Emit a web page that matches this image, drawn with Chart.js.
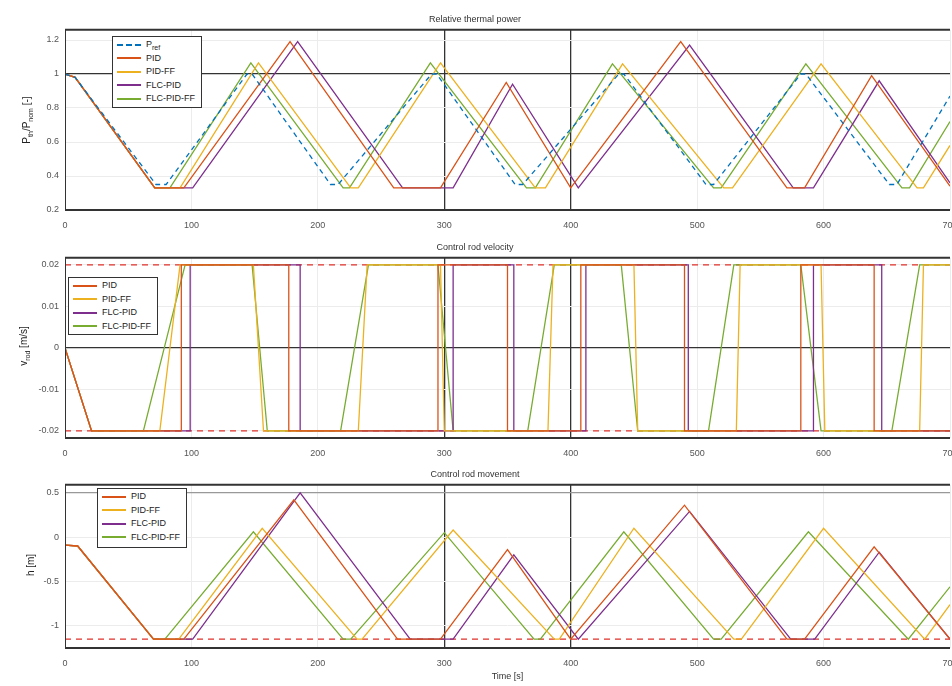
<!DOCTYPE html>
<html>
<head>
<meta charset="utf-8">
<script src="https://cdn.jsdelivr.net/npm/chart.js@4.4.1/dist/chart.umd.min.js"></script>
<style>
  body { margin: 0; width: 952px; height: 686px; background: #fff; position: relative; overflow: hidden;
         font-family: "Liberation Sans", Arial, sans-serif; }
  canvas { position: absolute; left: 0; }
  .leg { position: absolute; background: #fff; border: 1px solid #333; font-size: 9px; color: #222;
         padding: 1px 4px; box-sizing: border-box; }
  .leg div { height: 13.5px; line-height: 13.5px; white-space: nowrap; }
  .leg .ln { display: inline-block; width: 24px; vertical-align: middle; margin-right: 5px; border-top: 2px solid; }
  .ylab { position: absolute; transform: translate(-50%, -50%) rotate(-90deg); font-size: 10px; color: #222; white-space: nowrap; }
  .ylab sub { font-size: 7px; }
</style>
</head>
<body>
<canvas id="power" width="952" height="236" style="top:0"></canvas>
<canvas id="velocity" width="952" height="228" style="top:236px"></canvas>
<canvas id="movement" width="952" height="222" style="top:464px"></canvas>

<div class="ylab" style="left:27px;top:120px">P<sub>th</sub>/P<sub>nom</sub> [-]</div>
<div class="ylab" style="left:24px;top:346px">v<sub>rod</sub> [m/s]</div>
<div class="ylab" style="left:30px;top:565px">h [m]</div>

<div class="leg" style="left:112px;top:36px;width:90px;height:72px">
  <div><span class="ln" style="border-top:2px dashed #0072BD"></span>P<sub style="font-size:7px">ref</sub></div>
  <div><span class="ln" style="border-color:#D95319"></span>PID</div>
  <div><span class="ln" style="border-color:#EDB120"></span>PID-FF</div>
  <div><span class="ln" style="border-color:#7E2F8E"></span>FLC-PID</div>
  <div><span class="ln" style="border-color:#77AC30"></span>FLC-PID-FF</div>
</div>
<div class="leg" style="left:68px;top:277px;width:90px;height:58px">
  <div><span class="ln" style="border-color:#D95319"></span>PID</div>
  <div><span class="ln" style="border-color:#EDB120"></span>PID-FF</div>
  <div><span class="ln" style="border-color:#7E2F8E"></span>FLC-PID</div>
  <div><span class="ln" style="border-color:#77AC30"></span>FLC-PID-FF</div>
</div>
<div class="leg" style="left:97px;top:488px;width:90px;height:60px">
  <div><span class="ln" style="border-color:#D95319"></span>PID</div>
  <div><span class="ln" style="border-color:#EDB120"></span>PID-FF</div>
  <div><span class="ln" style="border-color:#7E2F8E"></span>FLC-PID</div>
  <div><span class="ln" style="border-color:#77AC30"></span>FLC-PID-FF</div>
</div>

<script>
// axis ticks
const timeTicks = [0, 100, 200, 300, 400, 500, 600, 700];
const powerTicks = [0.2, 0.4, 0.6, 0.8, 1, 1.2];
const velTicks = [-0.02, -0.01, 0, 0.01, 0.02];
const rodTicks = [-1, -0.5, 0, 0.5];
const markTimes = [300, 400];

// relative thermal power
const tRef = [0, 8, 72, 80, 144, 148, 210, 216, 290, 294, 356, 362, 438, 442, 507, 513, 582, 586, 652, 658, 700];
const pRef = [1, 0.98, 0.35, 0.35, 1, 1, 0.35, 0.35, 1, 1, 0.35, 0.35, 1, 1, 0.35, 0.35, 1, 1, 0.35, 0.35, 0.87];
const tPowPid = [0, 8, 71, 94, 178, 260, 297, 349, 400, 487, 571, 585, 638, 700];
const pPowPid = [1, 0.98, 0.33, 0.33, 1.19, 0.33, 0.33, 0.95, 0.33, 1.19, 0.33, 0.33, 0.99, 0.34];
const tPowPidFF = [0, 8, 71, 91, 153, 226, 232, 297, 372, 380, 441, 521, 528, 598, 674, 679, 700];
const pPowPidFF = [1, 0.98, 0.33, 0.33, 1.065, 0.33, 0.33, 1.065, 0.33, 0.33, 1.06, 0.33, 0.33, 1.06, 0.33, 0.33, 0.58];
const tPowFlc = [0, 8, 71, 101, 184, 267, 307, 354, 406, 494, 576, 592, 644, 700];
const pPowFlc = [1, 0.98, 0.33, 0.33, 1.19, 0.33, 0.33, 0.94, 0.33, 1.17, 0.33, 0.33, 0.96, 0.36];
const tPowFlcFF = [0, 8, 71, 83, 147, 220, 225, 289, 365, 372, 433, 513, 519, 586, 662, 668, 700];
const pPowFlcFF = [1, 0.98, 0.33, 0.33, 1.065, 0.33, 0.33, 1.065, 0.33, 0.33, 1.06, 0.33, 0.33, 1.06, 0.33, 0.33, 0.72];

// control rod velocity
const velLimit = 0.02;
const tVelPid = [0, 21, 92, 92, 177, 177, 295, 295, 350, 350, 408, 408, 490, 490, 582, 582, 640, 640, 700];
const vVelPid = [0, -0.02, -0.02, 0.02, 0.02, -0.02, -0.02, 0.02, 0.02, -0.02, -0.02, 0.02, 0.02, -0.02, -0.02, 0.02, 0.02, -0.02, -0.02];
const tVelPidFF = [0, 21, 75, 91, 149, 157, 232, 239, 297, 300, 382, 386, 450, 453, 531, 534, 598, 601, 676, 679, 700];
const vVelPidFF = [0, -0.02, -0.02, 0.02, 0.02, -0.02, -0.02, 0.02, 0.02, -0.02, -0.02, 0.02, 0.02, -0.02, -0.02, 0.02, 0.02, -0.02, -0.02, 0.02, 0.02];
const tVelFlc = [0, 21, 99, 99, 186, 186, 307, 307, 355, 355, 412, 412, 493, 493, 592, 592, 646, 646, 700];
const vVelFlc = [0, -0.02, -0.02, 0.02, 0.02, -0.02, -0.02, 0.02, 0.02, -0.02, -0.02, 0.02, 0.02, -0.02, -0.02, 0.02, 0.02, -0.02, -0.02];
const tVelFlcFF = [0, 21, 62, 95, 148, 160, 218, 240, 295, 307, 366, 387, 440, 453, 509, 529, 582, 598, 654, 676, 700];
const vVelFlcFF = [0, -0.02, -0.02, 0.02, 0.02, -0.02, -0.02, 0.02, 0.02, -0.02, -0.02, 0.02, 0.02, -0.02, -0.02, 0.02, 0.02, -0.02, -0.02, 0.02, 0.02];

// control rod movement
const rodLow = -1.15;
const tRodPid = [0, 10, 70, 94, 181, 263, 297, 350, 400, 490, 571, 585, 640, 700];
const hRodPid = [-0.09, -0.1, -1.15, -1.15, 0.42, -1.15, -1.15, -0.14, -1.15, 0.36, -1.15, -1.15, -0.11, -1.15];
const tRodPidFF = [0, 10, 70, 90, 156, 231, 235, 307, 387, 391, 450, 529, 535, 600, 680, 700];
const hRodPidFF = [-0.09, -0.1, -1.15, -1.15, 0.1, -1.15, -1.15, 0.08, -1.15, -1.15, 0.1, -1.15, -1.15, 0.1, -1.15, -0.76];
const tRodFlc = [0, 10, 70, 101, 186, 273, 307, 355, 406, 494, 574, 593, 644, 700];
const hRodFlc = [-0.09, -0.1, -1.15, -1.15, 0.5, -1.15, -1.15, -0.2, -1.15, 0.29, -1.15, -1.15, -0.17, -1.15];
const tRodFlcFF = [0, 10, 70, 79, 149, 220, 226, 300, 371, 376, 442, 513, 519, 588, 667, 700];
const hRodFlcFF = [-0.09, -0.1, -1.15, -1.15, 0.06, -1.15, -1.15, 0.05, -1.15, -1.15, 0.06, -1.15, -1.15, 0.06, -1.15, -0.56];

const colors = { ref: '#0072BD', pid: '#D95319', pidFF: '#EDB120', flc: '#7E2F8E', flcFF: '#77AC30', limit: '#E0302A' };

const pts = (t, v) => t.map((x, i) => ({ x, y: v[i] }));
const line = (label, t, v, color, extra) => Object.assign({
  label, data: pts(t, v), borderColor: color, borderWidth: 1.3, pointRadius: 0, tension: 0, fill: false
}, extra || {});

// box around the plot area
const framePlugin = {
  id: 'frame',
  afterDraw(chart) {
    const { ctx, chartArea: a } = chart;
    ctx.save();
    ctx.strokeStyle = '#333';
    ctx.lineWidth = 2;
    ctx.beginPath();
    ctx.moveTo(a.left, a.top); ctx.lineTo(a.right, a.top);
    ctx.moveTo(a.left, a.bottom); ctx.lineTo(a.right, a.bottom);
    ctx.stroke();
    ctx.lineWidth = 1;
    ctx.beginPath();
    ctx.moveTo(a.left + 0.5, a.top); ctx.lineTo(a.left + 0.5, a.bottom);
    ctx.stroke();
    ctx.restore();
  }
};

function makeChart(id, opts) {
  const xAxis = {
    type: 'linear', min: 0, max: 700,
    afterBuildTicks: s => { s.ticks = timeTicks.map(value => ({ value })); },
    afterFit: s => { s.height = opts.xHeight; s.paddingLeft = 0; s.paddingRight = 0; },
    border: { display: false },
    grid: {
      drawTicks: false,
      color: c => markTimes.includes(c.tick.value) ? '#333' : '#ececec',
      lineWidth: c => markTimes.includes(c.tick.value) ? 1.3 : 1
    },
    ticks: { padding: 10, color: '#555', font: { size: 9 }, callback: v => String(v) }
  };
  if (opts.xTitle) {
    xAxis.title = { display: true, text: opts.xTitle, color: '#333', font: { size: 9 }, padding: { top: 2 } };
  }
  return new Chart(document.getElementById(id).getContext('2d'), {
    type: 'line',
    data: { datasets: opts.datasets },
    options: {
      responsive: false,
      animation: false,
      devicePixelRatio: 1,
      layout: { padding: { right: 2 } },
      plugins: {
        legend: { display: false },
        tooltip: { enabled: false },
        title: { display: true, text: opts.title, color: '#333', font: { size: 9, weight: 'normal' }, padding: opts.titlePad }
      },
      scales: {
        x: xAxis,
        y: {
          min: opts.yMin, max: opts.yMax,
          afterBuildTicks: s => { s.ticks = opts.yTicks.map(value => ({ value })); },
          afterFit: s => { s.width = 65; s.paddingTop = 0; s.paddingBottom = 0; },
          border: { display: false },
          grid: {
            drawTicks: false,
            color: c => c.tick.value === opts.yMark ? opts.yMarkColor : '#ececec',
            lineWidth: c => c.tick.value === opts.yMark ? 1.3 : 1
          },
          ticks: { padding: 6, color: '#555', font: { size: 9 }, callback: v => String(v) }
        }
      }
    },
    plugins: [framePlugin]
  });
}

makeChart('power', {
  title: 'Relative thermal power',
  titlePad: { top: 14, bottom: 5 },
  xHeight: 26,
  yMin: 0.2, yMax: 1.26, yTicks: powerTicks, yMark: 1, yMarkColor: '#333',
  datasets: [
    line('Pref', tRef, pRef, colors.ref, { borderDash: [5, 4] }),
    line('PID', tPowPid, pPowPid, colors.pid),
    line('PID-FF', tPowPidFF, pPowPidFF, colors.pidFF),
    line('FLC-PID', tPowFlc, pPowFlc, colors.flc),
    line('FLC-PID-FF', tPowFlcFF, pPowFlcFF, colors.flcFF)
  ]
});

makeChart('velocity', {
  title: 'Control rod velocity',
  titlePad: { top: 6, bottom: 5 },
  xHeight: 26,
  yMin: -0.0217, yMax: 0.0217, yTicks: velTicks, yMark: 0, yMarkColor: '#333',
  datasets: [
    line('PID', tVelPid, vVelPid, colors.pid),
    line('PID-FF', tVelPidFF, vVelPidFF, colors.pidFF),
    line('FLC-PID', tVelFlc, vVelFlc, colors.flc),
    line('FLC-PID-FF', tVelFlcFF, vVelFlcFF, colors.flcFF),
    line('upper limit', [0, 700], [velLimit, velLimit], colors.limit, { borderDash: [6, 5], borderWidth: 1.2 }),
    line('lower limit', [0, 700], [-velLimit, -velLimit], colors.limit, { borderDash: [6, 5], borderWidth: 1.2 })
  ]
});

makeChart('movement', {
  title: 'Control rod movement',
  titlePad: { top: 5, bottom: 5 },
  xHeight: 38,
  xTitle: 'Time [s]',
  yMin: -1.25, yMax: 0.59, yTicks: rodTicks, yMark: 0.5, yMarkColor: '#999',
  datasets: [
    line('PID', tRodPid, hRodPid, colors.pid),
    line('PID-FF', tRodPidFF, hRodPidFF, colors.pidFF),
    line('FLC-PID', tRodFlc, hRodFlc, colors.flc),
    line('FLC-PID-FF', tRodFlcFF, hRodFlcFF, colors.flcFF),
    line('lower limit', [0, 700], [rodLow, rodLow], colors.limit, { borderDash: [6, 5], borderWidth: 1.2 })
  ]
});
</script>
</body>
</html>
